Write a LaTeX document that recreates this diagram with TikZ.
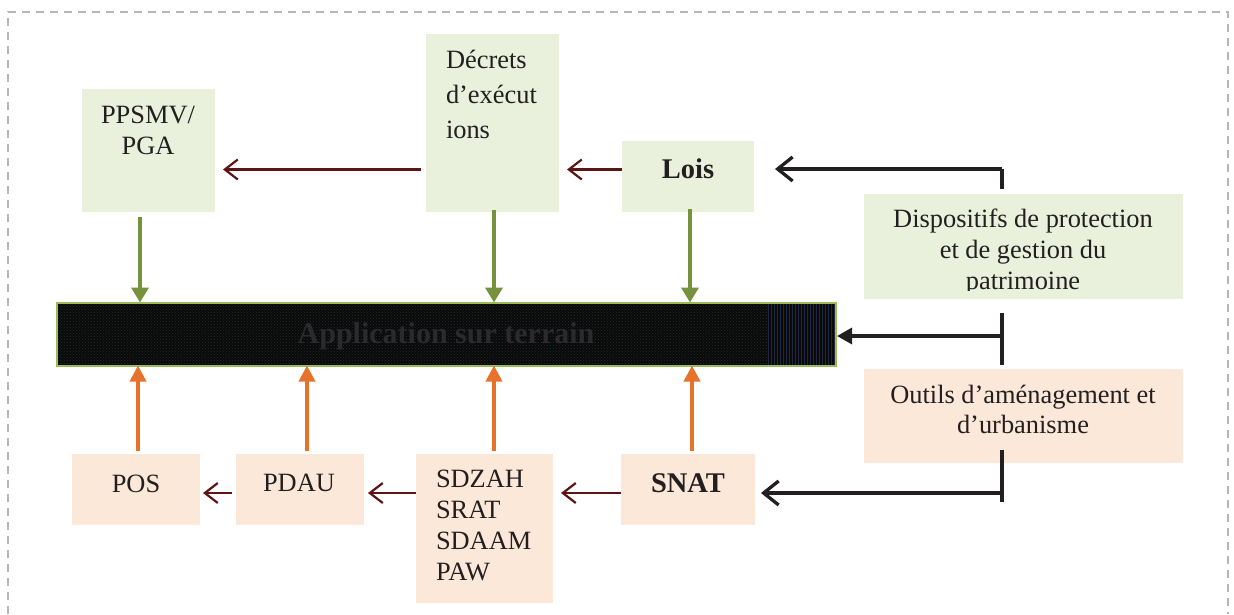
\documentclass[tikz,border=0pt]{standalone}
\usepackage{fontspec}
\setmainfont{Liberation Serif}
\usetikzlibrary{arrows.meta,patterns}

\definecolor{boxgreen}{RGB}{233,240,220}
\definecolor{boxorange}{RGB}{252,232,217}
\definecolor{arrgreen}{RGB}{118,146,60}
\definecolor{arrorange}{RGB}{230,114,44}
\definecolor{darkmaroon}{RGB}{92,20,20}
\definecolor{ink}{RGB}{35,31,32}
\definecolor{framegray}{RGB}{182,182,188}
\definecolor{bargreen}{RGB}{155,187,89}
\definecolor{bartext}{RGB}{44,42,44}
\definecolor{bardots}{RGB}{34,44,46}
\definecolor{barstripes}{RGB}{30,40,70}

\begin{document}
\begin{tikzpicture}[x=1pt,y=-1pt,
  box/.style={inner sep=0pt, outer sep=0pt, draw=none},
  gbox/.style={box, fill=boxgreen},
  obox/.style={box, fill=boxorange},
  txt/.style={inner sep=0pt, outer sep=0pt, text=ink, font=\fontsize{26.4}{31}\selectfont},
  boldtxt/.style={txt, font=\fontsize{28.5}{31}\selectfont\bfseries},
  redarr/.style={draw=darkmaroon, line width=2.4pt, -{Straight Barb[length=13pt,width=20pt,line width=2.2pt]}},
  blkline/.style={draw=ink, line width=3.3pt},
  blkarr/.style={blkline, -{Straight Barb[length=15pt,width=24pt,line width=3.3pt]}},
  blktri/.style={blkline, -{Triangle[length=15pt,width=16pt]}},
  grnarr/.style={draw=arrgreen, line width=3.5pt, -{Triangle[length=15pt,width=17pt]}},
  orgarr/.style={draw=arrorange, line width=3.5pt, -{Triangle[length=16pt,width=16pt]}}
]
\useasboundingbox (0,0) rectangle (1234,614);

% outer dashed frame
\draw[framegray, line width=1.3pt, dash pattern=on 8pt off 6pt]
  (8,614) -- (8,12) -- (1228,12) -- (1228,614);

% upper row: legal instruments
\node[gbox, minimum width=133pt, minimum height=123pt] (pp)   at (148.5,150.5) {};
\node[gbox, minimum width=133pt, minimum height=178pt] (dec)  at (492.5,123)   {};
\node[gbox, minimum width=132pt, minimum height=71pt]  (lois) at (688,176.5)   {};
\node[gbox, minimum width=319pt, minimum height=105pt] (disp) at (1023.5,246.5) {};

% lower row: planning tools
\node[obox, minimum width=128pt, minimum height=71pt]  (pos)  at (136,489.5) {};
\node[obox, minimum width=128pt, minimum height=71pt]  (pdau) at (300,489.5) {};
\node[obox, minimum width=137pt, minimum height=149pt] (sdz)  at (484.5,528.5) {};
\node[obox, minimum width=134pt, minimum height=71pt]  (snat) at (688,489.5) {};
\node[obox, minimum width=319pt, minimum height=94pt]  (out)  at (1023.5,416) {};

% central bar
\node[box, fill=black!96, minimum width=779pt, minimum height=63pt] (bar) at (446.5,334) {};
\fill[pattern=crosshatch dots, pattern color=bardots] (bar.north west) rectangle (bar.south east);
\fill[black!96] (bar.north east) ++(-68,0) rectangle (bar.south east);
\fill[pattern=vertical lines, pattern color=barstripes] (bar.north east) ++(-68,0) rectangle (bar.south east);
\draw[bargreen, line width=2pt] (bar.north west) rectangle (bar.south east);
\node[inner sep=0pt, anchor=base, text=bartext, font=\fontsize{30}{30}\selectfont\bfseries] (bartxt) at (446,343) {Application sur terrain};

% texts (multi-line nodes are anchored on the baseline of their last line)
\node[txt, anchor=base, align=center] (tpp) at (148,154) {PPSMV/\\PGA};
\node[txt, anchor=base west, align=left, font=\fontsize{26.4}{35}\selectfont] (tdec) at (446,138) {Décrets\\d’exécut\\ions};
\node[boldtxt, anchor=base] (tlois) at (688,178) {Lois};
\begin{scope}
  \clip (disp.north west) rectangle (1183,290);
  \node[txt, anchor=base, align=center] (tdisp) at (1023,289) {Dispositifs de protection\\et de gestion du\\patrimoine};
\end{scope}
\node[txt, anchor=base, align=center, font=\fontsize{26.4}{30}\selectfont] (tout) at (1023,433) {Outils d’aménagement et\\d’urbanisme};
\node[txt, anchor=base] (tpos) at (136,492) {POS};
\node[txt, anchor=base] (tpdau) at (299,491) {PDAU};
\node[txt, anchor=base west, align=left, font=\fontsize{26.4}{30.7}\selectfont] (tsdz) at (436,580) {SDZAH\\SRAT\\SDAAM\\PAW};
\node[boldtxt, anchor=base] (tsnat) at (688,492) {SNAT};

% reference levels and columns for connectors
\coordinate (ytop) at (0,169.5);
\coordinate (ybot) at (0,493);
\coordinate (g1) at (140,0);
\coordinate (g2) at (494,0);
\coordinate (g3) at (690,0);
\coordinate (o1) at (138,0);
\coordinate (o2) at (307,0);
\coordinate (o3) at (494,0);
\coordinate (o4) at (692,0);
\coordinate (j1) at (1002,169);
\coordinate (j2) at (1002,336);
\coordinate (j3) at (1002,493);
\coordinate (j3a) at (1002,450);
\coordinate (j3b) at (1002,502);

% hierarchy arrows, upper row
\draw[redarr, shorten <=5pt, shorten >=8pt] (dec.west |- ytop) -- (pp.east |- ytop);
\draw[redarr, shorten >=8pt] (lois.west |- ytop) -- (dec.east |- ytop);

% hierarchy arrows, lower row
\draw[redarr, shorten <=4pt, shorten >=3pt] (pdau.west |- ybot) -- (pos.east |- ybot);
\draw[redarr, shorten >=4pt] (sdz.west |- ybot) -- (pdau.east |- ybot);
\draw[redarr, shorten >=8pt] (snat.west |- ybot) -- (sdz.east |- ybot);

% application arrows
\draw[grnarr, shorten <=5pt] (pp.south -| g1) -- (bar.north -| g1);
\draw[grnarr, shorten <=-2pt] (dec.south -| g2) -- (bar.north -| g2);
\draw[grnarr, shorten <=-3pt] (lois.south -| g3) -- (bar.north -| g3);
\draw[orgarr, shorten <=3pt] (pos.north -| o1) -- (bar.south -| o1);
\draw[orgarr, shorten <=3pt] (pdau.north -| o2) -- (bar.south -| o2);
\draw[orgarr, shorten <=3pt] (sdz.north -| o3) -- (bar.south -| o3);
\draw[orgarr, shorten <=3pt] (snat.north -| o4) -- (bar.south -| o4);

% brackets from the two families of instruments
\draw[blkline, shorten <=5pt] (disp.north -| j1) -- (j1);
\draw[blkarr, shorten >=21pt] (j1) -- (lois.east |- j1);
\draw[blkline, shorten <=14pt, shorten >=4pt] (disp.south -| j2) -- (out.north -| j2);
\draw[blktri, shorten >=1pt] (j2) -- (bar.east |- j2);
\draw[blkline] (j3a) -- (j3b);
\draw[blkarr, shorten >=6pt] (j3) -- (snat.east |- j3);
\end{tikzpicture}
\end{document}
